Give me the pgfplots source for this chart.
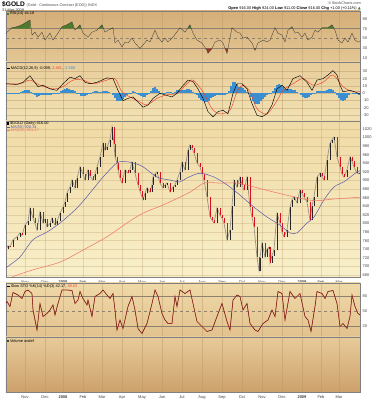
\documentclass[border=0pt]{standalone}
\usepackage{pgfplots}
\pgfplotsset{compat=1.18}
\usepackage{fontspec}
\setmainfont{Liberation Sans}
\newfontfamily\dejavu{DejaVu Sans}
\definecolor{rsiT}{HTML}{D5AE78}
\definecolor{rsiB}{HTML}{E4C795}
\definecolor{macdT}{HTML}{E8CD9A}
\definecolor{macdB}{HTML}{F2E2B5}
\definecolor{prT}{HTML}{F0DAA5}
\definecolor{prB}{HTML}{F8EFC9}
\definecolor{stoT}{HTML}{EFD9A8}
\definecolor{stoB}{HTML}{E2C28E}
\definecolor{volT}{HTML}{E7CB9A}
\definecolor{volB}{HTML}{CDA16B}
\definecolor{gridc}{HTML}{B89868}
\definecolor{refl}{HTML}{8E8170}
\definecolor{rsigreen}{HTML}{4E7A2C}
\definecolor{rsired}{HTML}{9C3A28}
\definecolor{histblue}{HTML}{3B8ED0}
\definecolor{sigred}{HTML}{F0402A}
\definecolor{ma50}{HTML}{5A5AA8}
\definecolor{ma200}{HTML}{F07A68}
\definecolor{candlered}{HTML}{D8101A}
\definecolor{shadowc}{HTML}{9A9282}
\newcommand\tkf{\fontsize{4}{4.5}\selectfont}
\newcommand\lbf{\fontsize{3.9}{4.3}\selectfont}
\begin{document}
\begin{tikzpicture}
\pgfplotsset{
  panel/.style={
    scale only axis, width=354pt,
    xmin=6, xmax=360,
    axis line style={draw=black!50, line width=0.3pt},
    tick style={draw=none},
    xtick={25,45,63,83,102,122,142,162,182,202,222,242,262,282,302,321,339},
    xticklabels={},
    xmajorgrids,
    major grid style={draw=gridc, line width=0.3pt, opacity=0.45},
    yticklabel pos=right,
    yticklabel style={font=\tkf, text=black!75, anchor=west, xshift=-0.8pt},
    xticklabel style={font=\tkf, text=black!75},
    /pgf/number format/assume math mode=true,
    /pgf/number format/set thousands separator={},
    anchor=north west,
    unbounded coords=jump,
  },
  monthlabels/.style={
    xticklabels={Nov,Dec,\textbf{2008},Feb,Mar,Apr,May,Jun,Jul,Aug,Sep,Oct,Nov,Dec,\textbf{2009},Feb,Mar},
  },
}
% ---------------- RSI ----------------
\begin{axis}[panel, at={(6pt,389pt)}, height=51pt,
  ymin=2.4, ymax=106, ytick={10,30,50,70,90},
  axis background/.style={top color=rsiT, bottom color=rsiB}]
\addplot[draw=refl, line width=0.5pt] coordinates {(6,70)(360,70)};
\addplot[draw=refl, line width=0.5pt] coordinates {(6,30)(360,30)};
\addplot[draw=refl, line width=0.4pt, dashed] coordinates {(6,50)(360,50)};
% areas above 70
\addplot[draw=none, fill=rsigreen] coordinates {(11,70)(12,72)(17,74)(22,78)(27,84)(30,88)(30.6,70)} --cycle;
\addplot[draw=none, fill=rsigreen] coordinates {(60.8,70)(62,74)(67,78)(72,84)(74.2,70)} --cycle;
\addplot[draw=none, fill=rsigreen] coordinates {(76.4,70)(80,78)(81.4,70)} --cycle;
\addplot[draw=none, fill=rsigreen] coordinates {(98.4,70)(102,78)(103.6,70)} --cycle;
\addplot[draw=none, fill=rsigreen] coordinates {(110,70)(113,72)(113.1,70)} --cycle;
\addplot[draw=none, fill=rsigreen] coordinates {(179.3,70)(180,72)(180.6,70)} --cycle;
\addplot[draw=none, fill=rsigreen] coordinates {(187.3,70)(190,78)(191.4,70)} --cycle;
\addplot[draw=none, fill=rsigreen] coordinates {(231.8,70)(232,72)(233.1,70)} --cycle;
\addplot[draw=none, fill=rsigreen] coordinates {(274.6,70)(275,72)(275.5,70)} --cycle;
\addplot[draw=none, fill=rsigreen] coordinates {(289.7,70)(292,74)(292.7,70)} --cycle;
\addplot[draw=none, fill=rsigreen] coordinates {(321.1,70)(322,72)(328,72)(332,78)(334.2,70)} --cycle;
% areas below 30
\addplot[draw=none, fill=rsired] coordinates {(205.7,30)(207,26)(208,20)(212,30)} --cycle;
\addplot[draw=none, fill=rsired] coordinates {(225.1,30)(227,20)(228,30)} --cycle;
\addplot[draw=none, fill=rsired] coordinates {(254.2,30)(255,26)(255.8,30)} --cycle;
\addplot[black!80, line width=0.3pt] coordinates {(6,60)(7,63)(12,72)(17,74)(22,78)(27,84)(30,88)(32,57)(35,63)(38,53)(42,63)(45,47)(50,61)(53,47)(58,61)(62,74)(67,78)(72,84)(75,67)(80,78)(83,61)(88,53)(92,63)(97,67)(102,78)(105,63)(108,67)(113,72)(115,41)(118,47)(122,33)(125,43)(128,41)(132,51)(135,41)(140,30)(143,37)(147,47)(150,43)(155,67)(158,53)(162,43)(165,51)(168,43)(173,53)(180,72)(185,63)(190,78)(193,61)(197,47)(202,41)(207,26)(208,20)(212,30)(215,43)(220,47)(223,41)(227,20)(232,72)(237,63)(240,61)(243,51)(247,53)(252,41)(255,26)(258,41)(263,47)(267,43)(270,47)(275,72)(278,61)(282,57)(285,43)(288,67)(292,74)(295,61)(298,63)(302,53)(305,61)(308,47)(312,53)(315,67)(318,63)(322,72)(328,72)(332,78)(335,67)(338,47)(342,41)(345,51)(348,43)(352,61)(355,47)(358,43)(360,44)};
\end{axis}
% ---------------- MACD ----------------
\begin{axis}[panel, at={(6pt,338pt)}, height=59pt,
  ymin=-37.8, ymax=42.7, ytick={-30,-20,...,30}, ymajorgrids,
  axis background/.style={top color=macdT, bottom color=macdB}]
\addplot[ycomb, draw=histblue, line width=1.5pt] coordinates {(7,0.5)(9,0.8)(11,1)(13,1)(15,0.5)(17,0.5)(19,1)(21,2)(23,3)(25,4)(27,4.5)(29,4)(31,2)(33,-1)(35,-3)(37,-4.5)(39,-4)(41,-3)(43,-2.5)(45,-3)(47,-2.5)(49,-2)(51,-2)(53,-1.5)(55,-1)(57,-0.5)(59,1)(61,3)(63,5)(65,6.5)(67,7)(69,6.5)(71,5)(73,4)(75,2.5)(77,1)(79,-1.5)(81,-3.5)(83,-4)(85,-3.5)(87,-2.5)(89,-1)(91,0.5)(93,2)(95,3)(97,2.5)(99,1.5)(101,1.5)(103,2.5)(105,3)(107,2.5)(109,1.5)(111,0)(113,-3)(115,-7)(117,-10)(119,-11)(121,-10)(123,-8)(125,-5)(127,-3)(129,-1)(131,1)(133,2.5)(135,2)(137,0.5)(139,-2)(141,-4)(143,-5)(145,-4.5)(147,-2.5)(149,-0.5)(151,3)(153,7)(155,8)(157,6.5)(159,3)(161,1)(163,-0.5)(165,0.5)(167,1.5)(169,2)(171,1.5)(173,0.5)(175,2)(177,4)(179,5)(181,5)(183,4.5)(185,5)(187,6)(189,6)(191,4.5)(193,2)(195,-1)(197,-3)(199,-6)(201,-9)(203,-11)(205,-12)(207,-12)(209,-10)(211,-7)(213,-5)(215,-4)(217,-3)(219,-2)(221,-2.5)(223,-3)(225,-3)(227,-1)(229,3)(231,10)(233,15)(235,15)(237,12)(239,9)(241,8)(243,7)(245,5)(247,2)(249,-1)(251,-5)(253,-10)(255,-14)(257,-15)(259,-14)(261,-11)(263,-8)(265,-5)(267,-2)(269,-0.5)(271,1)(273,3)(275,7)(277,11)(279,12)(281,11)(283,8)(285,6)(287,5.5)(289,6)(291,6)(293,5)(295,4)(297,2)(299,0)(301,-3)(303,-5)(305,-6)(307,-6)(309,-5)(311,-3)(313,-1)(315,1)(317,2.5)(319,3.5)(321,3.5)(323,3)(325,3.5)(327,4.5)(329,5.5)(331,6)(333,5)(335,2)(337,-3)(339,-7)(341,-9.5)(343,-10)(345,-9)(347,-6)(349,-3)(351,0)(353,1)(355,0.5)(357,-1)(359,-2.5)};
\addplot[sigred, line width=0.45pt, smooth, tension=0.5] coordinates {(6,13)(20,13)(30,18)(40,11)(53,6)(63,9)(73,18)(83,18)(93,13)(107,18)(115,20)(122,2)(130,-5)(140,-12)(147,-16)(157,-7)(167,-2)(177,0)(187,13)(193,18)(203,2)(212,-21)(220,-28)(230,-23)(237,2)(243,11)(250,2)(257,-21)(267,-28)(277,-10)(283,4)(293,13)(303,20)(313,11)(323,15)(333,25)(343,9)(353,2)(360,2.5)};
\addplot[black, line width=0.45pt] coordinates {(6,13)(17,12)(23,15)(30,24)(33,18)(38,9)(43,11)(50,6)(57,4)(63,13)(70,22)(75,20)(80,24)(85,15)(90,13)(97,15)(102,18)(107,21)(113,20)(118,4)(123,-10)(128,-7)(133,-5)(138,-12)(143,-19)(148,-16)(153,-7)(160,0)(167,-3)(172,-5)(177,0)(182,9)(188,18)(193,16)(198,6)(203,-7)(208,-25)(213,-32)(218,-25)(223,-23)(228,-28)(233,0)(237,13)(242,13)(247,6)(252,-14)(257,-30)(262,-32)(267,-28)(272,-16)(277,6)(282,11)(287,4)(293,20)(300,24)(307,15)(312,4)(317,18)(323,20)(328,25)(333,31)(337,25)(340,11)(343,2)(350,4)(355,2)(358,0)(360,-0.1)};
\end{axis}
% ---------------- PRICE ----------------
\begin{axis}[panel, monthlabels, at={(6pt,279pt)}, height=156pt,
  ymin=675.3, ymax=1038.6, ytick={680,700,...,1020}, ymajorgrids,
  major grid style={draw=gridc, line width=0.3pt, opacity=0.3},
  axis background/.style={top color=prT, bottom color=prB}]
\addplot[shadowc, line width=0.7pt] coordinates {(6,740)(8,748)(10,745)(13,762)(17,769)(20,778)(22,772)(25,796)(28,805)(30,836)(33,813)(35,800)(37,785)(40,827)(43,801)(45,810)(47,792)(50,800)(52,813)(55,796)(57,805)(60,824)(63,838)(65,850)(67,871)(70,885)(72,901)(75,883)(77,905)(80,932)(83,915)(85,901)(88,925)(90,910)(93,901)(95,915)(97,932)(100,955)(103,987)(105,970)(107,978)(110,995)(112,1025)(114,985)(115,955)(117,940)(118,925)(120,905)(122,894)(125,925)(128,917)(130,925)(132,943)(135,917)(138,890)(140,875)(142,862)(143,855)(145,870)(147,883)(150,873)(152,890)(153,908)(155,915)(157,920)(160,894)(163,883)(165,890)(167,894)(170,873)(173,885)(175,890)(177,901)(180,920)(182,943)(185,925)(188,971)(190,983)(192,975)(194,964)(197,941)(200,932)(202,915)(204,901)(207,862)(210,815)(212,808)(214,801)(217,836)(220,820)(222,812)(224,801)(227,762)(230,785)(232,840)(234,901)(237,885)(240,908)(242,890)(244,878)(247,908)(250,838)(252,815)(254,792)(257,722)(259,690)(260,720)(262,755)(265,722)(267,740)(269,745)(270,708)(272,725)(274,738)(277,824)(280,801)(282,780)(284,769)(287,785)(290,838)(292,855)(294,862)(297,848)(300,878)(302,870)(304,862)(307,850)(310,808)(312,840)(314,862)(317,908)(320,917)(322,910)(324,901)(327,948)(330,987)(332,995)(334,1001)(337,955)(340,932)(342,915)(344,908)(347,925)(350,955)(352,945)(354,932)(357,917)(359,916)};
\addplot[black!85, line width=0.8pt, line cap=butt] coordinates {(8,740)(8,748)(8,nan)(13,745)(13,762)(13,nan)(17,762)(17,769)(17,nan)(20,769)(20,778)(20,nan)(25,772)(25,796)(25,nan)(28,796)(28,805)(28,nan)(30,805)(30,836)(30,nan)(40,785)(40,827)(40,nan)(45,801)(45,810)(45,nan)(50,792)(50,800)(50,nan)(52,800)(52,813)(52,nan)(57,796)(57,805)(57,nan)(60,805)(60,824)(60,nan)(63,824)(63,838)(63,nan)(65,838)(65,850)(65,nan)(67,850)(67,871)(67,nan)(70,871)(70,885)(70,nan)(72,885)(72,901)(72,nan)(77,883)(77,905)(77,nan)(80,905)(80,932)(80,nan)(88,901)(88,925)(88,nan)(95,901)(95,915)(95,nan)(97,915)(97,932)(97,nan)(100,932)(100,955)(100,nan)(103,955)(103,987)(103,nan)(107,970)(107,978)(107,nan)(110,978)(110,995)(110,nan)(112,995)(112,1025)(112,nan)(125,894)(125,925)(125,nan)(130,917)(130,925)(130,nan)(132,925)(132,943)(132,nan)(145,855)(145,870)(145,nan)(147,870)(147,883)(147,nan)(152,873)(152,890)(152,nan)(153,890)(153,908)(153,nan)(155,908)(155,915)(155,nan)(157,915)(157,920)(157,nan)(165,883)(165,890)(165,nan)(167,890)(167,894)(167,nan)(173,873)(173,885)(173,nan)(175,885)(175,890)(175,nan)(177,890)(177,901)(177,nan)(180,901)(180,920)(180,nan)(182,920)(182,943)(182,nan)(188,925)(188,971)(188,nan)(190,971)(190,983)(190,nan)(217,801)(217,836)(217,nan)(230,762)(230,785)(230,nan)(232,785)(232,840)(232,nan)(234,840)(234,901)(234,nan)(240,885)(240,908)(240,nan)(247,878)(247,908)(247,nan)(260,690)(260,720)(260,nan)(262,720)(262,755)(262,nan)(267,722)(267,740)(267,nan)(269,740)(269,745)(269,nan)(272,708)(272,725)(272,nan)(274,725)(274,738)(274,nan)(277,738)(277,824)(277,nan)(287,769)(287,785)(287,nan)(290,785)(290,838)(290,nan)(292,838)(292,855)(292,nan)(294,855)(294,862)(294,nan)(300,848)(300,878)(300,nan)(312,808)(312,840)(312,nan)(314,840)(314,862)(314,nan)(317,862)(317,908)(317,nan)(320,908)(320,917)(320,nan)(327,901)(327,948)(327,nan)(330,948)(330,987)(330,nan)(332,987)(332,995)(332,nan)(334,995)(334,1001)(334,nan)(347,908)(347,925)(347,nan)(350,925)(350,955)(350,nan)};
\addplot[candlered, line width=0.8pt, line cap=butt] coordinates {(10,748)(10,745)(10,nan)(22,778)(22,772)(22,nan)(33,836)(33,813)(33,nan)(35,813)(35,800)(35,nan)(37,800)(37,785)(37,nan)(43,827)(43,801)(43,nan)(47,810)(47,792)(47,nan)(55,813)(55,796)(55,nan)(75,901)(75,883)(75,nan)(83,932)(83,915)(83,nan)(85,915)(85,901)(85,nan)(90,925)(90,910)(90,nan)(93,910)(93,901)(93,nan)(105,987)(105,970)(105,nan)(114,1025)(114,985)(114,nan)(115,985)(115,955)(115,nan)(117,955)(117,940)(117,nan)(118,940)(118,925)(118,nan)(120,925)(120,905)(120,nan)(122,905)(122,894)(122,nan)(128,925)(128,917)(128,nan)(135,943)(135,917)(135,nan)(138,917)(138,890)(138,nan)(140,890)(140,875)(140,nan)(142,875)(142,862)(142,nan)(143,862)(143,855)(143,nan)(150,883)(150,873)(150,nan)(160,920)(160,894)(160,nan)(163,894)(163,883)(163,nan)(170,894)(170,873)(170,nan)(185,943)(185,925)(185,nan)(192,983)(192,975)(192,nan)(194,975)(194,964)(194,nan)(197,964)(197,941)(197,nan)(200,941)(200,932)(200,nan)(202,932)(202,915)(202,nan)(204,915)(204,901)(204,nan)(207,901)(207,862)(207,nan)(210,862)(210,815)(210,nan)(212,815)(212,808)(212,nan)(214,808)(214,801)(214,nan)(220,836)(220,820)(220,nan)(222,820)(222,812)(222,nan)(224,812)(224,801)(224,nan)(227,801)(227,762)(227,nan)(237,901)(237,885)(237,nan)(242,908)(242,890)(242,nan)(244,890)(244,878)(244,nan)(250,908)(250,838)(250,nan)(252,838)(252,815)(252,nan)(254,815)(254,792)(254,nan)(257,792)(257,722)(257,nan)(259,722)(259,690)(259,nan)(265,755)(265,722)(265,nan)(270,745)(270,708)(270,nan)(280,824)(280,801)(280,nan)(282,801)(282,780)(282,nan)(284,780)(284,769)(284,nan)(297,862)(297,848)(297,nan)(302,878)(302,870)(302,nan)(304,870)(304,862)(304,nan)(307,862)(307,850)(307,nan)(310,850)(310,808)(310,nan)(322,917)(322,910)(322,nan)(324,910)(324,901)(324,nan)(337,1001)(337,955)(337,nan)(340,955)(340,932)(340,nan)(342,932)(342,915)(342,nan)(344,915)(344,908)(344,nan)(352,955)(352,945)(352,nan)(354,945)(354,932)(354,nan)(357,932)(357,917)(357,nan)(359,917)(359,916)(359,nan)};
\addplot[ma50, line width=0.5pt, smooth, tension=0.5] coordinates {(6,697)(20,722)(33,762)(47,780)(60,801)(77,836)(90,871)(103,908)(117,941)(125,944)(133,941)(143,932)(157,908)(170,901)(180,897)(187,906)(200,917)(214,908)(227,890)(240,866)(254,838)(267,815)(280,796)(290,778)(297,778)(307,801)(314,815)(324,855)(334,885)(344,897)(357,920)(360,922)};
\addplot[ma200, line width=0.55pt, smooth, tension=0.5] coordinates {(6,665)(13,676)(33,692)(60,710)(83,738)(107,769)(127,801)(143,824)(163,843)(190,873)(204,894)(220,894)(237,894)(254,885)(274,873)(294,862)(314,853)(334,857)(360,861)};
\end{axis}
% ---------------- SLOW STO ----------------
\begin{axis}[panel, at={(6pt,117pt)}, height=54pt,
  ymin=-2, ymax=106, ytick={20,50,80},
  axis background/.style={top color=stoT, bottom color=stoB}]
\addplot[draw=refl, line width=0.5pt] coordinates {(6,80)(360,80)};
\addplot[draw=refl, line width=0.5pt] coordinates {(6,20)(360,20)};
\addplot[draw=refl, line width=0.4pt, dashed] coordinates {(6,50)(360,50)};
\addplot[sigred, line width=0.7pt] coordinates {(6,66)(7,69)(10,59)(13,87)(18,82)(22,75)(25,89)(28,92)(32,85)(33,52)(37,12)(40,65)(43,39)(47,45)(50,52)(53,62)(55,42)(58,65)(62,92)(67,92)(72,91)(75,65)(78,72)(80,89)(83,75)(87,62)(88,72)(92,39)(95,79)(100,85)(103,92)(107,82)(110,75)(113,85)(115,52)(117,12)(120,32)(123,15)(128,59)(132,79)(135,52)(138,15)(142,5)(147,25)(152,65)(155,92)(158,79)(162,45)(165,32)(168,25)(172,25)(175,79)(177,59)(180,92)(185,85)(190,92)(193,65)(197,29)(202,19)(207,9)(212,12)(217,39)(222,65)(227,29)(230,12)(233,72)(237,82)(240,79)(243,52)(247,65)(250,25)(255,12)(258,9)(263,25)(268,32)(272,52)(275,39)(278,89)(282,85)(285,32)(290,89)(295,75)(300,85)(305,39)(308,32)(311,9)(315,59)(317,89)(322,85)(325,75)(328,89)(333,91)(337,65)(340,19)(343,25)(347,15)(350,39)(352,82)(355,59)(358,45)(360,42)};
\addplot[black!85, line width=0.3pt] coordinates {(6,66)(7,69)(10,59)(13,87)(18,82)(22,75)(25,89)(28,92)(32,85)(33,52)(37,12)(40,65)(43,39)(47,45)(50,52)(53,62)(55,42)(58,65)(62,92)(67,92)(72,91)(75,65)(78,72)(80,89)(83,75)(87,62)(88,72)(92,39)(95,79)(100,85)(103,92)(107,82)(110,75)(113,85)(115,52)(117,12)(120,32)(123,15)(128,59)(132,79)(135,52)(138,15)(142,5)(147,25)(152,65)(155,92)(158,79)(162,45)(165,32)(168,25)(172,25)(175,79)(177,59)(180,92)(185,85)(190,92)(193,65)(197,29)(202,19)(207,9)(212,12)(217,39)(222,65)(227,29)(230,12)(233,72)(237,82)(240,79)(243,52)(247,65)(250,25)(255,12)(258,9)(263,25)(268,32)(272,52)(275,39)(278,89)(282,85)(285,32)(290,89)(295,75)(300,85)(305,39)(308,32)(311,9)(315,59)(317,89)(322,85)(325,75)(328,89)(333,91)(337,65)(340,19)(343,25)(347,15)(350,39)(352,82)(355,59)(358,45)(360,42)};
\end{axis}
% ---------------- VOLUME ----------------
\begin{axis}[panel, monthlabels, at={(6pt,63pt)}, height=55pt,
  ymin=0, ymax=1, ytick=\empty,
  axis background/.style={top color=volT, bottom color=volB}]
\addplot[draw=none] coordinates {(6,0.5)(360,0.5)};
\end{axis}
% ---------------- TEXTS ----------------
\node[anchor=base west, inner sep=0] at (2pt,393pt) {{\fontsize{6.6}{7}\selectfont\bfseries \$GOLD}\,{\color{black!70}\fontsize{3.8}{4}\selectfont(Gold - Continuous Contract (EOD)) INDX}};
\node[anchor=base west, inner sep=0, font=\fontsize{3.8}{4}\selectfont, text=black!80] at (2pt,388.3pt) {31-Mar-2009};
\node[anchor=base east, inner sep=0, font=\fontsize{3.8}{4}\selectfont, text=black!70] at (361pt,395pt) {\copyright\,StockCharts.com};
\node[anchor=base east, inner sep=0, font=\fontsize{3.9}{4.2}\selectfont] at (361pt,390.3pt) {\textbf{Open} 916.00 \textbf{High} 924.00 \textbf{Low} 911.00 \textbf{Close} 916.00 \textbf{Chg} +1.00 (+0.11\%) {\dejavu\color{rsigreen}▲}};
\node[anchor=base west, inner sep=0, font=\lbf] at (7pt,385pt) {{\color{rsigreen}\rule{2.2pt}{2.2pt}}\,RSI(14) 44.18};
\node[anchor=base west, inner sep=0, font=\lbf] at (7pt,330.8pt) {\rule[0.9pt]{3pt}{0.45pt}\,MACD(12,26,9) -0.099, {\color{sigred}2.481}, {\color{histblue}-2.580}};
\node[anchor=base west, inner sep=0, font=\lbf] at (7pt,275.3pt) {\rule{2.2pt}{2.2pt}\,\$GOLD (Daily) 916.00};
\node[anchor=base west, inner sep=0, font=\lbf, text=ma50] at (7pt,271.8pt) {\rule[0.9pt]{3pt}{0.5pt}\,MA(50) 926.34};
\node[anchor=base west, inner sep=0, font=\lbf, text=ma200] at (7pt,268.3pt) {\rule[0.9pt]{3pt}{0.5pt}\,MA(200) 861.47};
\node[anchor=base west, inner sep=0, font=\lbf] at (7pt,112.5pt) {\rule[0.9pt]{3pt}{0.45pt}\,Slow STO \%K(14) \%D(3) 42.17, {\color{sigred}49.53}};
\node[anchor=base west, inner sep=0, font=\lbf] at (7pt,57.8pt) {{\color{rsigreen!70!black}\rule{2.2pt}{2.2pt}}\,Volume undef};
\pgfresetboundingbox
\path (0,0) rectangle (377pt,400pt);
\end{tikzpicture}
\end{document}
